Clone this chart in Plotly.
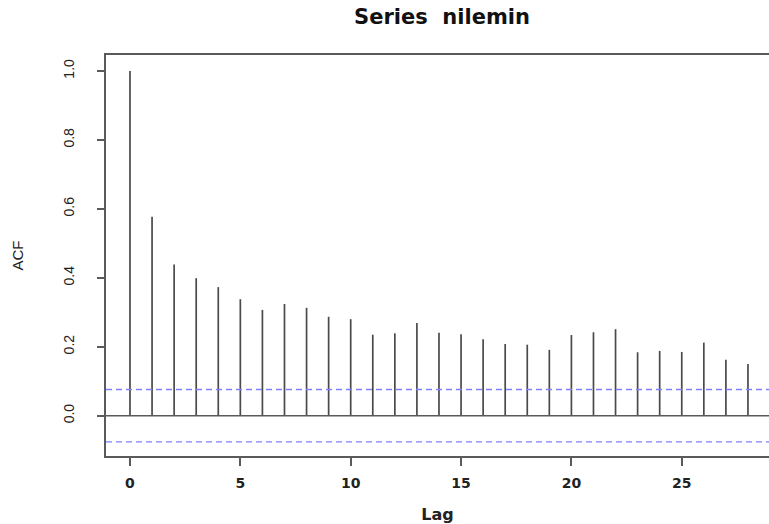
import plotly.graph_objects as go

# Sample autocorrelation of the nilemin series, lags 0..28
lags = list(range(0, 29))
acf_values = [
    1.000, 0.577, 0.439, 0.399, 0.373, 0.338, 0.307, 0.324, 0.313, 0.287,
    0.280, 0.235, 0.239, 0.269, 0.241, 0.236, 0.222, 0.208, 0.206, 0.191,
    0.234, 0.242, 0.251, 0.184, 0.188, 0.185, 0.212, 0.162, 0.150,
]
# 95% white-noise band (+/- ci)
ci = 0.076

x_ticks = [0, 5, 10, 15, 20, 25]
y_ticks = [0.0, 0.2, 0.4, 0.6, 0.8, 1.0]
y_tick_text = ["0.0", "0.2", "0.4", "0.6", "0.8", "1.0"]

# vertical stems from zero up to each autocorrelation value
stem_x, stem_y = [], []
for lag, r in zip(lags, acf_values):
    stem_x += [lag, lag, None]
    stem_y += [0, r, None]

fig = go.Figure()
fig.add_trace(go.Scatter(
    x=stem_x, y=stem_y, mode="lines",
    line=dict(color="#4a4a4a", width=1.7),
    hoverinfo="skip", showlegend=False,
))

# zero reference line
fig.add_shape(type="line", xref="paper", x0=0, x1=1, yref="y", y0=0, y1=0,
              line=dict(color="#5a5a5a", width=1.6), layer="above")
# confidence band limits
for level in (ci, -ci):
    fig.add_shape(type="line", xref="paper", x0=0, x1=1, yref="y",
                  y0=level, y1=level,
                  line=dict(color="#8080ff", width=1.4, dash="6px,4px"),
                  layer="above")

axis_line = dict(color="#5a5a5a", width=1.6)

fig.update_layout(
    width=769, height=524,
    margin=dict(l=106, r=0, t=55, b=68),
    paper_bgcolor="white", plot_bgcolor="white",
    title=dict(
        text="Series\u00a0 nilemin",
        font=dict(family="DejaVu Sans", size=21, color="#111111", weight="bold"),
        xref="container", x=442 / 769, xanchor="center",
        yref="container", y=1 - 17 / 524, yanchor="middle",
    ),
    xaxis=dict(
        range=[-1.087, 28.953],
        tickmode="array", tickvals=x_ticks,
        ticks="outside", ticklen=8, tickwidth=1.6, tickcolor="#5a5a5a",
        showline=True, linecolor=axis_line["color"], linewidth=axis_line["width"],
        mirror=True,
        showgrid=False, zeroline=False,
        ticklabelstandoff=5,
        tickfont=dict(family="DejaVu Sans", size=14, color="#222222", weight="bold"),
        title=dict(text="Lag", standoff=22,
                   font=dict(family="DejaVu Sans", size=16, color="#222222", weight="bold")),
    ),
    yaxis=dict(
        range=[-0.1169, 1.0464],
        tickmode="array", tickvals=y_ticks, ticktext=y_tick_text,
        tickangle=-90,
        ticks="outside", ticklen=7, tickwidth=1.6, tickcolor="#5a5a5a",
        showline=True, linecolor=axis_line["color"], linewidth=axis_line["width"],
        mirror=False,
        showgrid=False, zeroline=False,
        ticklabelstandoff=18,
        tickfont=dict(family="Liberation Sans", size=14, color="#222222"),
        title=dict(text="ACF", standoff=33,
                   font=dict(family="Liberation Sans", size=15, color="#222222")),
    ),
)

fig.write_html("out.html")
